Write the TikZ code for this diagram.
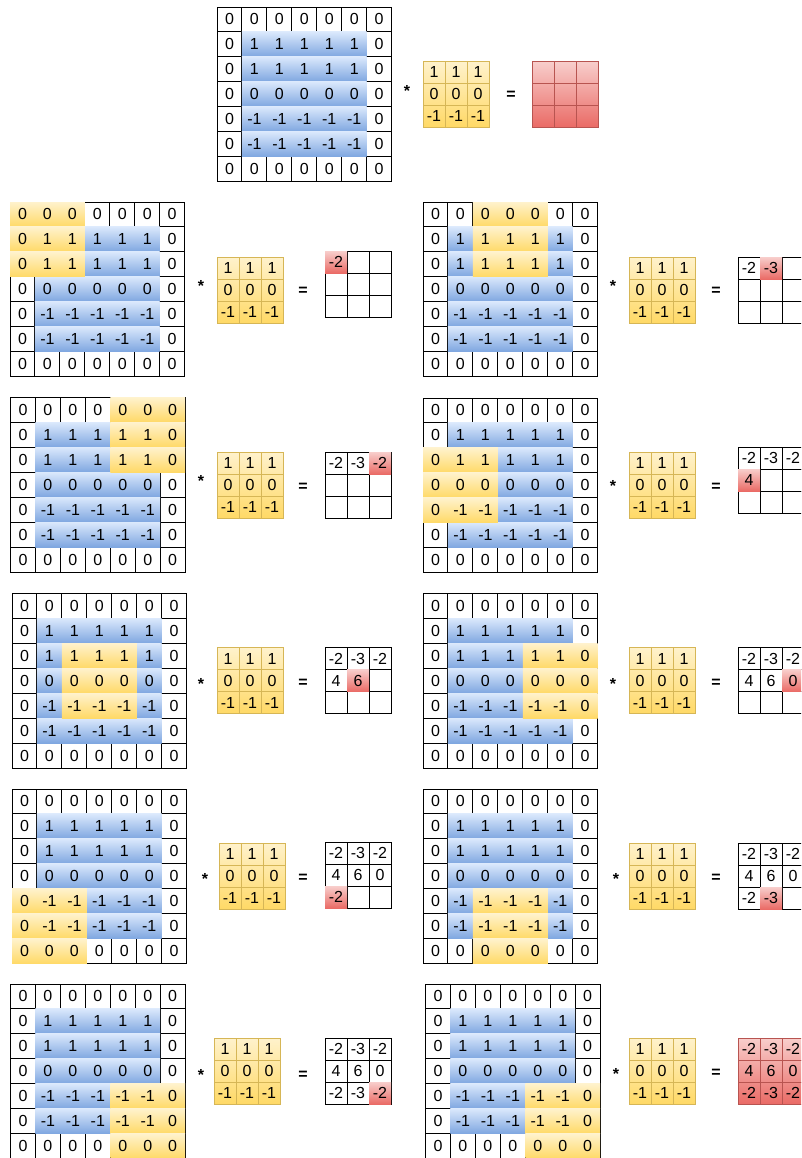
\documentclass[tikz,border=0pt]{standalone}
\usepackage{fontspec}
\setmainfont{Liberation Sans}
\definecolor{bluetop}{HTML}{DAE8FC}
\definecolor{bluebot}{HTML}{7EA6E0}
\definecolor{yeltop}{HTML}{FFF2CC}
\definecolor{yelbot}{HTML}{FFD966}
\definecolor{yelline}{HTML}{D6B656}
\definecolor{redtop}{HTML}{F8CECC}
\definecolor{redbot}{HTML}{EA6B66}
\definecolor{redline}{HTML}{B85450}
\tikzset{
  gridline/.style={draw=black, line width=0.75pt},
  yelgrid/.style={draw=yelline, line width=0.75pt},
  redgrid/.style={draw=redline, line width=0.75pt},
  blueshade/.style={top color=bluetop, bottom color=bluebot},
  yelshade/.style={top color=yeltop, bottom color=yelbot},
  redshade/.style={top color=redtop, bottom color=redbot},
  cell/.style={inner sep=0pt, font=\fontsize{12}{14}\selectfont, text=black},
  opsym/.style={inner sep=0pt, anchor=base, font=\fontsize{12}{14}\selectfont\bfseries},
}
\newcommand{\gcs}{24.95}
% big 7x7 grid: #1 name, #2 x, #3 y
\newcommand{\biggrid}[3]{%
  \foreach \r in {0,...,6}{\foreach \c in {0,...,6}{%
    \draw[gridline] ({#2+\c*\gcs},{#3+\r*\gcs}) rectangle ++(\gcs,\gcs);}}%
  \foreach \r in {1,...,5}{%
    \shade[blueshade] ({#2+\gcs},{#3+\r*\gcs}) rectangle ++({5*\gcs},\gcs);}%
}
% yellow 3x3 block: #1 x, #2 y, #3 row, #4 col
\newcommand{\yblock}[4]{%
  \foreach \i in {0,1,2}{%
    \shade[yelshade] ({#1+#4*\gcs},{#2+(#3+\i)*\gcs}) rectangle ++({3*\gcs},\gcs);}%
}
% numbers of the big grid: #1 name, #2 x, #3 y
\newcommand{\gridnums}[3]{%
  \foreach \r/\row in {0/{0,0,0,0,0,0,0},1/{0,1,1,1,1,1,0},2/{0,1,1,1,1,1,0},3/{0,0,0,0,0,0,0},4/{0,-1,-1,-1,-1,-1,0},5/{0,-1,-1,-1,-1,-1,0},6/{0,0,0,0,0,0,0}}{%
    \foreach \v [count=\c from 0] in \row {%
      \node[cell] (#1-\r-\c) at ({#2+(\c+0.5)*\gcs},{#3+(\r+0.5)*\gcs}) {\v};}}%
}
% kernel: #1 name, #2 x, #3 y
\newcommand{\kernel}[3]{%
  \shade[yelshade] (#2,#3) rectangle ++(66,66);
  \foreach \r in {0,1,2}{\foreach \c in {0,1,2}{%
    \draw[yelgrid] ({#2+\c*22},{#3+\r*22}) rectangle ++(22,22);}}%
  \foreach \r/\row in {0/{1,1,1},1/{0,0,0},2/{-1,-1,-1}}{%
    \foreach \v [count=\c from 0] in \row {%
      \node[cell] (#1-\r-\c) at ({#2+(\c+0.5)*22},{#3+(\r+0.5)*22}) {\v};}}%
}
% partial result: #1 name, #2 x, #3 y, #4 number of entries shown
\newcommand{\resgrid}[4]{%
  \foreach \r in {0,1,2}{\foreach \c in {0,1,2}{%
    \draw[gridline] ({#2+\c*22},{#3+\r*22}) rectangle ++(22,22);}}%
  \foreach \v [count=\i from 0] in {-2,-3,-2,4,6,0,-2,-3,-2}{%
    \pgfmathtruncatemacro{\rr}{floor(\i/3)}%
    \pgfmathtruncatemacro{\cc}{\i-3*\rr}%
    \ifnum\i<#4\relax
      \ifnum\i=\numexpr#4-1\relax
        \shade[redshade] ({#2+\cc*22},{#3+\rr*22}) rectangle ++(22,22);
      \fi
      \node[cell] (#1-\rr-\cc) at ({#2+(\cc+0.5)*22},{#3+(\rr+0.5)*22}) {\v};
    \fi}%
}
% full red result: #1 name, #2 x, #3 y, #4 1 = show numbers
\newcommand{\redres}[4]{%
  \shade[redshade] (#2,#3) rectangle ++(66,66);
  \foreach \r in {0,1,2}{\foreach \c in {0,1,2}{%
    \draw[redgrid] ({#2+\c*22},{#3+\r*22}) rectangle ++(22,22);}}%
  \ifnum#4=1\relax
  \foreach \v [count=\i from 0] in {-2,-3,-2,4,6,0,-2,-3,-2}{%
    \pgfmathtruncatemacro{\rr}{floor(\i/3)}%
    \pgfmathtruncatemacro{\cc}{\i-3*\rr}%
    \node[cell] (#1-\rr-\cc) at ({#2+(\cc+0.5)*22},{#3+(\rr+0.5)*22}) {\v};}%
  \fi
}
% operators: #1 name, #2 star x, #3 star y, #4 eq x, #5 eq y
\newcommand{\ops}[5]{%
  \node[opsym] (#1-star) at (#2,{#3+9}) {*};
  \node[opsym] (#1-eq) at (#4,{#5+5.5}) {=};
}
\begin{document}
\begin{tikzpicture}[x=0.75pt,y=-0.75pt]
\useasboundingbox (0,0) rectangle (801,1158);
\fill[white] (0,0) rectangle (801,1158);
\clip (0,0) rectangle (801,1158);
% top
\biggrid{t}{217}{7}\gridnums{t}{217}{7}
\kernel{tk}{423}{61}
\redres{tr}{532}{61}{0}
\ops{t}{407}{87}{511}{94}
% panel 1
\biggrid{a}{10}{202}\yblock{10}{202}{0}{0}\gridnums{a}{10}{202}
\kernel{ak}{217}{257}\resgrid{ar}{325}{251}{1}\ops{a}{201}{282}{303}{290}
% panel 2
\biggrid{b}{423}{202}\yblock{423}{202}{0}{2}\gridnums{b}{423}{202}
\kernel{bk}{629}{257}\resgrid{br}{738}{257}{2}\ops{b}{613}{282}{716}{290}
% panel 3
\biggrid{c}{10.5}{397.5}\yblock{10.5}{397.5}{0}{4}\gridnums{c}{10.5}{397.5}
\kernel{ck}{217}{452}\resgrid{cr}{325}{452}{3}\ops{c}{201}{477}{303}{486}
% panel 4
\biggrid{d}{423}{398}\yblock{423}{398}{2}{0}\gridnums{d}{423}{398}
\kernel{dk}{629}{452}\resgrid{dr}{738}{447}{4}\ops{d}{613}{482}{716}{486}
% panel 5
\biggrid{e}{12}{593.5}\yblock{12}{593.5}{2}{2}\gridnums{e}{12}{593.5}
\kernel{ek}{217}{647.5}\resgrid{er}{325}{647.5}{5}\ops{e}{201}{680}{303}{682}
% panel 6
\biggrid{f}{423}{593.5}\yblock{423}{593.5}{2}{4}\gridnums{f}{423}{593.5}
\kernel{fk}{629}{647.5}\resgrid{fr}{738}{647.5}{6}\ops{f}{613}{680}{716}{682}
% panel 7
\biggrid{g}{12}{789}\yblock{12}{789}{4}{0}\gridnums{g}{12}{789}
\kernel{gk}{219}{843}\resgrid{gr}{325}{842}{7}\ops{g}{205}{875}{303}{877}
% panel 8
\biggrid{h}{423}{789}\yblock{423}{789}{4}{2}\gridnums{h}{423}{789}
\kernel{hk}{629}{843}\resgrid{hr}{738}{843}{8}\ops{h}{616}{875}{716}{877}
% panel 9
\biggrid{i}{10.5}{984}\yblock{10.5}{984}{4}{4}\gridnums{i}{10.5}{984}
\kernel{ik}{214}{1038}\resgrid{ir}{325}{1038}{9}\ops{i}{201}{1071}{303}{1074}
% panel 10
\biggrid{j}{425.5}{984}\yblock{425.5}{984}{4}{4}\gridnums{j}{425.5}{984}
\kernel{jk}{629}{1038}\redres{jr}{738}{1038}{1}\ops{j}{616}{1070}{716}{1072}
\end{tikzpicture}
\end{document}
